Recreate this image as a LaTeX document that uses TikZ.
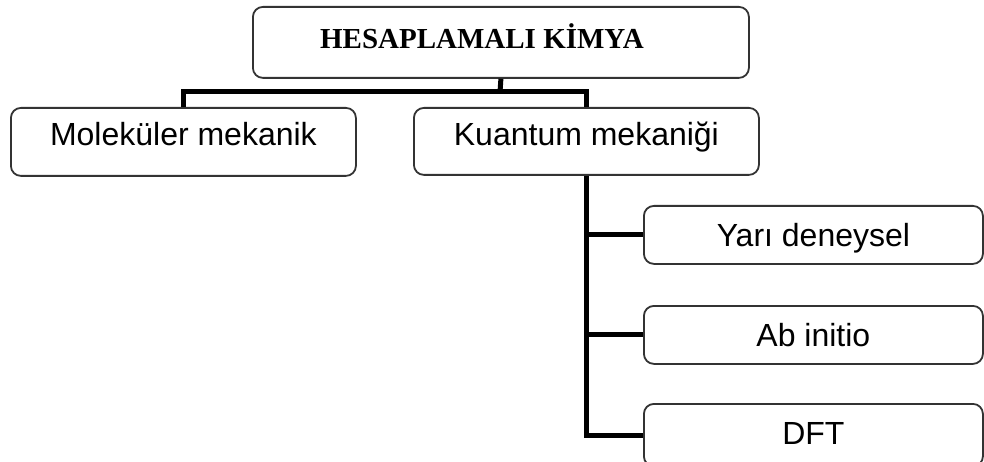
\documentclass[tikz,border=0pt]{standalone}
\usepackage{fontspec}
\setmainfont{Liberation Sans}
\newfontfamily\titlefont{Liberation Serif}
\begin{document}
\begin{tikzpicture}[x=1pt,y=-1pt,
  box/.style={draw=black!80, line width=1.8pt, rounded corners=10pt, fill=white,
    inner xsep=0pt, inner ysep=0pt, anchor=north west,
    font=\fontsize{32}{38}\selectfont},
  conn/.style={line width=5pt, draw=black}]
\useasboundingbox (0,0) rectangle (984,462);
\clip (0,0) rectangle (984,462);
\node[box, minimum width=496pt, text height=41.5pt, text depth=29.5pt,
  font=\titlefont\bfseries\fontsize{29}{34}\selectfont] (top) at (252,6) {HESAPLAMALI KİMYA\hspace*{38pt}};
\node[box, minimum width=345pt, text height=38pt, text depth=30pt] (mm) at (10,107) {Moleküler mekanik};
\node[box, minimum width=345pt, text height=38pt, text depth=29pt] (km) at (413,107) {Kuantum mekaniği};
\node[box, minimum width=339pt, text height=40.5pt, text depth=17.5pt] (yd) at (643,205) {Yarı deneysel};
\node[box, minimum width=339pt, text height=40.5pt, text depth=17.5pt] (ab) at (643,305) {Ab initio};
\node[box, minimum width=339pt, text height=40.5pt, text depth=22pt] (dft) at (643,403) {DFT};
\coordinate (bar) at (500,92);
\draw[conn] (top.south) -- (bar);
\draw[conn] (mm.north) |- (bar) -| (km.north);
\draw[conn] (km.south) |- (dft.west);
\draw[conn] (km.south |- yd.west) -- (yd.west);
\draw[conn] (km.south |- ab.west) -- (ab.west);
\end{tikzpicture}
\end{document}
